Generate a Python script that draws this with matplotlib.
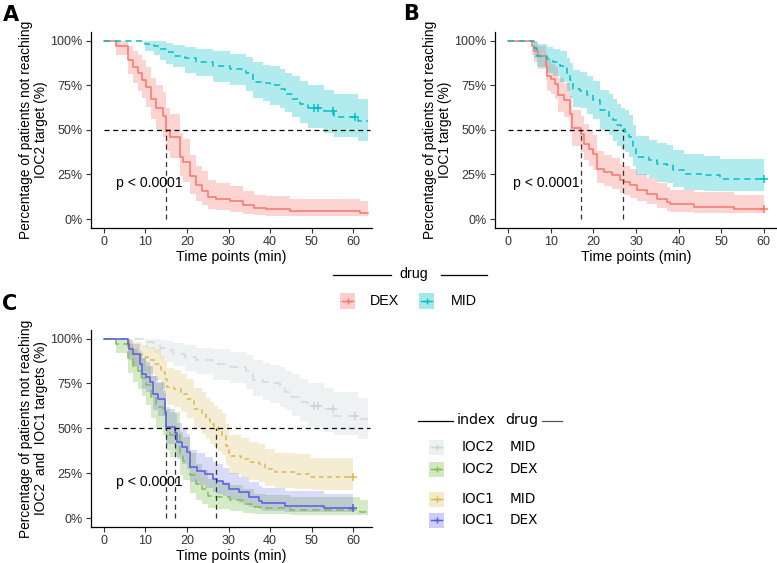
import matplotlib
matplotlib.use("Agg")
import matplotlib.pyplot as plt
from matplotlib.patches import Rectangle
from matplotlib.lines import Line2D

plt.rcParams["font.family"] = ["Liberation Sans", "DejaVu Sans"]

W, H = 777, 563

# ---- IOC2 (panel A, and IOC2 curves of panel C) ----
A_DEX_T = [0, 3, 5.8, 7, 8.2, 9.2, 10.2, 11.4, 12.6, 14.2, 15, 15.8, 18.2, 19, 20.6,
           22.2, 23.5, 25, 27, 30.3, 33.5, 36, 39, 44.7, 61.6, 63.5]
A_DEX_S = [100, 97, 89, 85, 82, 78, 74, 67, 62, 58, 50, 46, 35, 32, 24,
           19, 16, 12.5, 11.5, 10, 8, 6, 5.5, 4.5, 3.5, 3.5]
A_DEX_LO = [100, 92, 81, 76, 72, 68, 63, 56, 50, 46, 38, 34, 24, 21, 14,
            10, 8, 5.5, 5, 4, 2.8, 2.2, 2, 1.8, 1.7, 1.7]
A_DEX_HI = [100, 100, 97, 94, 92, 89, 85, 79, 75, 71, 62, 59, 48, 45, 36,
            30, 27, 22, 20, 18.5, 16, 13.5, 13, 11.5, 10, 10]

A_MID_T = [0, 9.8, 12, 13.5, 15, 16.6, 19.4, 22.2, 26.3, 30.3, 34.3, 35.9, 38.3, 40,
           42.3, 43.6, 45.2, 47.2, 49, 53, 55.4, 61.2, 63.5]
A_MID_S = [100, 98, 97, 95, 93.5, 91.6, 90, 88, 86, 84, 82, 77, 76, 75,
           73, 70, 67.2, 64.4, 62.5, 60.7, 57, 55, 55]
A_MID_LO = [100, 94, 92, 89, 87, 85, 82, 80, 77, 75, 72, 68, 66, 64,
            62, 60, 57, 54, 51, 48, 46, 44, 44]
A_MID_HI = [100, 100, 100, 99.5, 98.5, 97.5, 96.5, 95, 94, 92.5, 91, 88, 86.5, 85.5,
            84, 82, 80, 77.5, 75, 72.5, 70, 67, 67]
A_MID_CENS_T = [50.5, 51.5, 55, 60.5]
A_MID_CENS_S = [62.5, 62.5, 60.7, 57]

# ---- IOC1 (panel B, and IOC1 curves of panel C) ----
B_DEX_T = [0, 5.7, 6.1, 7.1, 8.8, 9.1, 10.1, 11, 11.8, 13, 14.6, 15, 17, 17.7, 18.9,
           19.9, 20.8, 22.4, 24.4, 26.3, 27.1, 28.7, 30.2, 32.6, 34.9, 37.3, 38,
           43.5, 52.9, 60]
B_DEX_S = [100, 97, 94, 91.6, 86, 80.4, 78.6, 75.8, 69.3, 66.5, 59, 51, 47.5, 42.3, 39.5,
           36.7, 28.3, 26.4, 24.6, 21.8, 20.9, 19, 16.2, 14.3, 11.5, 9.7, 8.4,
           6.9, 5.4, 5.4]
B_DEX_LO = [100, 92, 88, 84, 78, 72, 70, 67, 60, 57, 49, 41, 37.5, 33, 30,
            27.5, 20, 18.5, 17, 14.5, 13.5, 12, 10, 8.5, 6, 4.8, 4,
            3.6, 3.4, 3.4]
B_DEX_HI = [100, 100, 99, 97, 93, 89, 87, 85, 79, 76, 69, 61, 58, 53, 50,
            47, 38, 36, 34, 31, 30, 28, 25, 23, 20, 18, 16.5,
            15, 13.4, 13.4]

B_MID_T = [0, 6, 6.7, 9.1, 10.6, 12.2, 13.8, 14.6, 15.2, 16.9, 18.5, 20, 21.6, 23.6,
           24.6, 25.5, 26.5, 27.5, 28.3, 29.4, 30, 33, 34.9, 37.3, 38.8, 41.2, 45.9,
           49.8, 60]
B_MID_S = [100, 96, 91.6, 89.8, 88, 86, 81.4, 77.7, 73, 72, 69.3, 66.5, 61, 58,
           55.3, 52.5, 50.6, 48.8, 46, 40.4, 34.8, 33, 31, 30.2, 27.4, 25.5, 24.6,
           22.7, 22.7]
B_MID_LO = [100, 90, 85, 82, 80, 77, 72, 68, 63, 62, 59, 56, 50, 47,
            44, 41, 39.5, 37.5, 35, 29.5, 24.5, 23, 21, 20, 18, 16.5, 16,
            15.6, 15.6]
B_MID_HI = [100, 100, 98, 96.5, 95.5, 94, 90.5, 87.5, 83.5, 82.5, 80, 77.5, 72.5, 70,
            67, 64.5, 62.5, 61, 58.5, 52.5, 46.5, 44.5, 42.5, 41.5, 38.5, 36.5, 35.5,
            33.5, 33.5]

MEDIAN_A = [15]
MEDIAN_B = [17, 27]
MEDIAN_C = [15, 17, 27]
PVAL = "p < 0.0001"

RED, TEAL = "#F8766D", "#00BFC4"
C_GREY, C_GREEN, C_YELLOW, C_BLUE = "#cdd4d8", "#7fbf4f", "#d8bb50", "#5a5ae8"


def pxf(x, y):
    return (x / W, 1 - y / H)


def km(ax, t, s, lo, hi, color, ls, fill_alpha=0.3, line_alpha=1.0):
    ax.fill_between(t, lo, hi, step="post", color=color, alpha=fill_alpha, lw=0)
    ax.step(t, s, where="post", color=color, lw=1.1, ls=ls, alpha=line_alpha)


def style_axes(ax, ylabel, xmax):
    for sp in ("top", "right"):
        ax.spines[sp].set_visible(False)
    for sp in ("left", "bottom"):
        ax.spines[sp].set_linewidth(0.9)
    ax.set_xlim(-3.1, xmax)
    ax.set_ylim(-5, 104.8)
    ax.set_xticks(range(0, 61, 10))
    ax.set_yticks([0, 25, 50, 75, 100])
    ax.set_yticklabels(["0%", "25%", "50%", "75%", "100%"])
    ax.tick_params(labelsize=9.0, length=3.5, width=0.8, pad=2.5,
                   colors="#333333", labelcolor="#333333")
    ax.set_xlabel("Time points (min)", fontsize=10.3, labelpad=1)
    ax.set_ylabel(ylabel, fontsize=9.9, labelpad=2, linespacing=1.05)


def medians(ax, xs, xend):
    ax.plot([0, xend], [50, 50], color="black", ls=(0, (4, 3)), lw=0.9)
    for x in xs:
        ax.plot([x, x], [0, 50], color="#333333", ls=(0, (4, 3)), lw=0.9)


fig = plt.figure(figsize=(W / 100, H / 100), dpi=100)

# Panel A
axA = fig.add_axes([91 / W, 1 - 228 / H, 281 / W, 196 / H])
km(axA, A_DEX_T, A_DEX_S, A_DEX_LO, A_DEX_HI, RED, "-")
km(axA, A_MID_T, A_MID_S, A_MID_LO, A_MID_HI, TEAL, (0, (4, 3)))
axA.plot(A_MID_CENS_T, A_MID_CENS_S, "+", color=TEAL, ms=6, mew=1.1)
medians(axA, MEDIAN_A, 64)
axA.text(3, 20, PVAL, fontsize=10.1, va="center")
style_axes(axA, "Percentage of patients not reaching\nIOC2 target (%)", 64.5)

# Panel B
axB = fig.add_axes([495 / W, 1 - 228 / H, 282 / W, 196 / H])
km(axB, B_DEX_T, B_DEX_S, B_DEX_LO, B_DEX_HI, RED, "-")
km(axB, B_MID_T, B_MID_S, B_MID_LO, B_MID_HI, TEAL, (0, (4, 3)))
axB.plot([B_DEX_T[-1]], [B_DEX_S[-1]], "+", color=RED, ms=6, mew=1.1)
axB.plot([B_MID_T[-1]], [B_MID_S[-1]], "+", color=TEAL, ms=6, mew=1.1)
medians(axB, MEDIAN_B, 27)
axB.text(1.2, 20, PVAL, fontsize=10.1, va="center")
style_axes(axB, "Percentage of patients not reaching\nIOC1 target (%)", 63.1)

# Panel C
axC = fig.add_axes([91 / W, 1 - 527 / H, 281 / W, 197 / H])
km(axC, A_MID_T, A_MID_S, A_MID_LO, A_MID_HI, C_GREY, (0, (6, 4)),
   fill_alpha=0.3, line_alpha=0.85)
km(axC, B_MID_T, B_MID_S, B_MID_LO, B_MID_HI, C_YELLOW, (0, (3, 2.5)),
   fill_alpha=0.25)
km(axC, A_DEX_T, A_DEX_S, A_DEX_LO, A_DEX_HI, C_GREEN, (0, (5, 3)),
   fill_alpha=0.32)
km(axC, B_DEX_T, B_DEX_S, B_DEX_LO, B_DEX_HI, C_BLUE, "-", fill_alpha=0.22)
axC.plot(A_MID_CENS_T, A_MID_CENS_S, "+", color=C_GREY, ms=6, mew=1.1)
axC.plot([B_DEX_T[-1]], [B_DEX_S[-1]], "+", color=C_BLUE, ms=6, mew=1.1)
axC.plot([B_MID_T[-1]], [B_MID_S[-1]], "+", color=C_YELLOW, ms=6, mew=1.1)
medians(axC, MEDIAN_C, 64)
axC.text(3, 20, PVAL, fontsize=10.1, va="center")
style_axes(axC, "Percentage of patients not reaching\nIOC2  and  IOC1 targets (%)", 64.5)

# Panel letters
for lab, (x, y) in [("A", (3, 15)), ("B", (403, 14)), ("C", (2, 304))]:
    fig.text(*pxf(x, y), lab, fontsize=15, fontweight="bold", va="center",
             family="DejaVu Sans")


def fig_line(x0, x1, y, color="black", lw=0.9):
    fig.add_artist(Line2D([x0 / W, x1 / W], [1 - y / H, 1 - y / H],
                          color=color, lw=lw, transform=fig.transFigure))


def key(x, y, w, h, color, fill_alpha):
    fig.add_artist(Rectangle(pxf(x, y + h / 2), w / W, h / H, color=color,
                             alpha=fill_alpha, lw=0, transform=fig.transFigure))
    fig_line(x + 2, x + w - 2, y, color=color, lw=1.0)
    fig.add_artist(Line2D([(x + w / 2) / W], [1 - y / H], marker="+", ms=5,
                          mew=1.0, color=color, transform=fig.transFigure))


# Legend for A/B
fig_line(333, 391, 275)
fig.text(*pxf(414, 274), "drug", fontsize=10.3, ha="center", va="center")
fig_line(441, 487, 275)
key(340, 301, 15, 16, RED, 0.35)
fig.text(*pxf(370, 301), "DEX", fontsize=10.3, va="center")
key(419, 301, 15, 16, TEAL, 0.35)
fig.text(*pxf(451, 301), "MID", fontsize=10.3, va="center")

# Legend for C
fig_line(418, 453, 421)
fig.text(*pxf(457, 420), "index", fontsize=10.3, va="center", family="DejaVu Sans")
fig.text(*pxf(505, 420), "drug", fontsize=10.3, va="center", family="DejaVu Sans")
fig_line(542, 562, 421, color="#555555")
rows = [("IOC2", "MID", 447, C_GREY, 0.35),
        ("IOC2", "DEX", 469, C_GREEN, 0.35),
        ("IOC1", "MID", 499, C_YELLOW, 0.3),
        ("IOC1", "DEX", 520, C_BLUE, 0.3)]
for idx, drug, y, col, fa in rows:
    key(429, y, 15, 15, col, fa)
    fig.text(*pxf(462, y), idx, fontsize=9.8, va="center", family="DejaVu Sans")
    fig.text(*pxf(510, y), drug, fontsize=9.8, va="center", family="DejaVu Sans")

fig.savefig("out.png", dpi=100)
